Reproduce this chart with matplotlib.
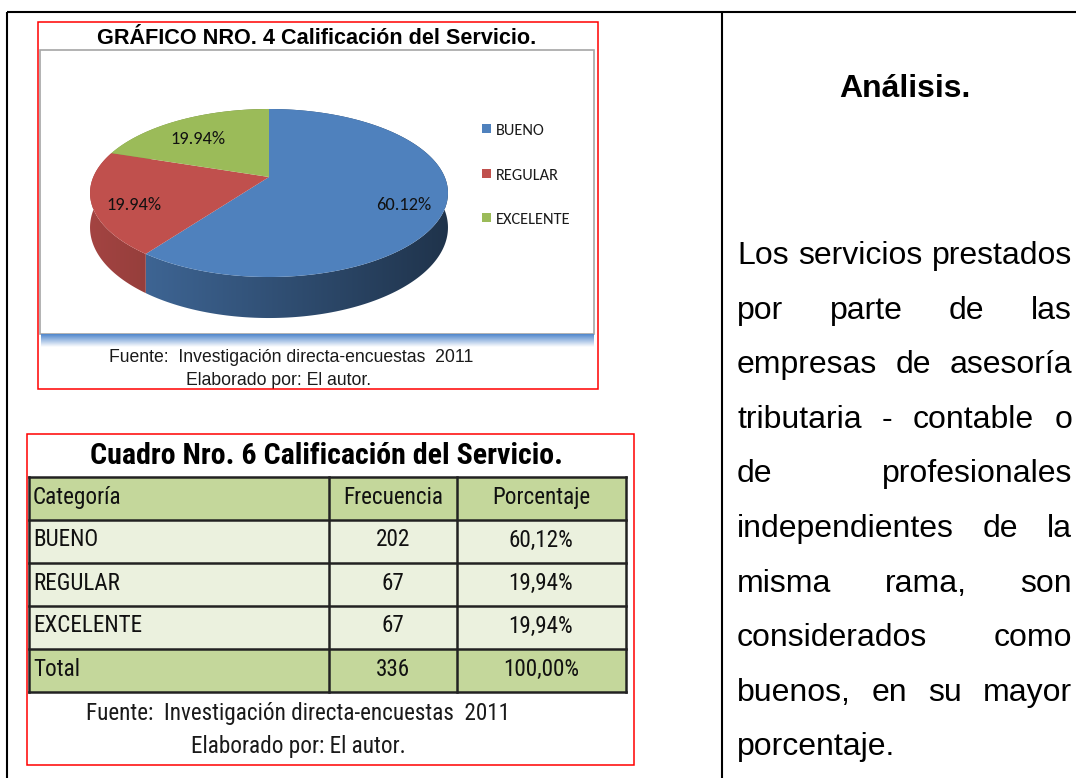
import numpy as np
import matplotlib
matplotlib.use('Agg')
import matplotlib.pyplot as plt
from matplotlib.patches import Rectangle, Polygon
from matplotlib.colors import to_rgb

# datos del cuadro / grafico
categorias = ['BUENO', 'REGULAR', 'EXCELENTE']
frecuencias = [202, 67, 67]
colores = ['#4F81BD', '#C0504D', '#9BBB59']
encabezados = ['Categoría', 'Frecuencia', 'Porcentaje']

titulo_grafico = 'GRÁFICO NRO. 4 Calificación del Servicio.'
titulo_cuadro = 'Cuadro Nro. 6 Calificación del Servicio.'
fuente = 'Fuente:  Investigación directa-encuestas  2011'
elaborado = 'Elaborado por: El autor.'
titulo_analisis = 'Análisis.'
lineas_analisis = [
    'Los servicios prestados',
    'por parte de las',
    'empresas de asesoría',
    'tributaria - contable o',
    'de profesionales',
    'independientes de la',
    'misma rama, son',
    'considerados como',
    'buenos, en su mayor',
    'porcentaje.',
]

total = sum(frecuencias)
porcentajes = [100 * f / total for f in frecuencias]

ARIAL = 'Liberation Sans'
NARROW = ['Roboto Condensed', 'Liberation Sans']
CALIBRI = ['Carlito', 'Lato']

fig = plt.figure(figsize=(10.76, 7.78), dpi=100)
ax = fig.add_axes([0, 0, 1, 1])
renderer = fig.canvas.get_renderer()


def ajustar(texto, ancho, family, weight='normal', base=20):
    # tamaño de letra para que el texto ocupe el ancho medido en el original
    t = ax.text(0, 0, texto, family=family, fontweight=weight, fontsize=base)
    w = t.get_window_extent(renderer).width
    t.remove()
    return base * ancho / w


# lineas de la tabla del documento
ax.plot([7, 1076], [12, 12], color='black', lw=1.5, solid_capstyle='butt')
ax.plot([7, 7], [12, 778], color='black', lw=1.5, solid_capstyle='butt')
ax.plot([722, 722], [12, 778], color='black', lw=1.5, solid_capstyle='butt')

# ---------------- grafico 3D ----------------
ax.add_patch(Rectangle((38, 22), 560, 367, fill=False, ec='#FF0000', lw=1.1, zorder=5))
ax.text(316.5, 44, titulo_grafico, ha='center', va='baseline', fontsize=15.6,
        fontweight='bold', family=ARIAL)
ax.add_patch(Rectangle((40, 50), 554, 284, fc='white', ec='#A6A6A6', lw=1.2, zorder=1))

# banda azul bajo el area del grafico
banda = np.linspace(0, 1, 64)
azul = np.array(to_rgb('#4F86CC'))
img_banda = (azul[None, :] * (1 - banda[:, None]) + banda[:, None])[:, None, :]
ax.imshow(img_banda, extent=(41, 594, 347, 334), aspect='auto', interpolation='bilinear', zorder=1)

# proyeccion en perspectiva del pastel
CX, B0, A0, C0, K0, H0 = 269, 177, -47.24, 0.1905, 175.7, 33.2


def proy(t, r=1.0, z=0.0):
    s = r * np.sin(t)
    c = r * np.cos(t)
    d = 1 + C0 * s
    return CX + K0 * c / d, (A0 * s + B0 + H0 * z) / d


fracs = np.array(frecuencias) / total
limites = np.pi / 2 - 2 * np.pi * np.r_[0, np.cumsum(fracs)]

xg = np.linspace(80, 460, 256)
sombra = np.clip(0.85 - 0.45 * (xg - 90) / 357, 0.38, 0.9)

# paredes laterales
for i, col in enumerate(colores):
    ts = np.linspace(limites[i], limites[i + 1], 200)
    xt, yt = proy(ts)
    xb, yb = proy(ts, z=1)
    pts = np.column_stack([np.r_[xt, xb[::-1]], np.r_[yt, yb[::-1]]])
    pared = Polygon(pts, closed=True, fc='none', ec='none')
    ax.add_patch(pared)
    img = np.array(to_rgb(col))[None, None, :] * sombra[None, :, None]
    im = ax.imshow(img, extent=(80, 460, 340, 100), aspect='auto',
                   interpolation='bilinear', zorder=2)
    im.set_clip_path(pared)

# caras superiores y etiquetas
vx, vy = proy(0, r=0)
for i, col in enumerate(colores):
    ts = np.linspace(limites[i], limites[i + 1], 200)
    xt, yt = proy(ts)
    ax.fill(np.r_[vx, xt], np.r_[vy, yt], color=col, lw=0, zorder=3)
    tm = (limites[i] + limites[i + 1]) / 2
    lx, ly = proy(tm, r=0.77, z=0.2)
    ax.text(lx, ly + 6, f'{porcentajes[i]:.2f}%', ha='center', va='baseline',
            family=CALIBRI, fontsize=13.2, color='#111111', zorder=4)

# leyenda
for i, (cat, col) in enumerate(zip(categorias, colores)):
    yb = 135 + 44.5 * i
    ax.add_patch(Rectangle((482, yb - 11), 9, 9, fc=col, ec='none', zorder=4))
    ax.text(496, yb, cat, ha='left', va='baseline', family=CALIBRI, fontsize=11.8,
            color='#1A1A1A', zorder=4)

ax.text(291, 362, fuente, ha='center', va='baseline', fontsize=12.7, family=ARIAL, color='#1A1A1A')
ax.text(279, 385, elaborado, ha='center', va='baseline', fontsize=12.7, family=ARIAL, color='#1A1A1A')

# ---------------- cuadro ----------------
ax.add_patch(Rectangle((27, 434), 607, 331, fill=False, ec='#FF0000', lw=1.1, zorder=5))
ax.text(327, 464, titulo_cuadro, ha='center', va='baseline', family=NARROW,
        fontweight='bold', fontsize=ajustar(titulo_cuadro, 474, NARROW, 'bold'))

filas = [encabezados]
for cat, f, p in zip(categorias, frecuencias, porcentajes):
    filas.append([cat, str(f), f'{p:.2f}'.replace('.', ',') + '%'])
filas.append(['Total', str(total), f'{sum(porcentajes):.2f}'.replace('.', ',') + '%'])

tam_celda = ajustar(encabezados[1], 100, NARROW)
xs_col = [29, 329, 457, 626]
y0, alto = 477, 43
for k, fila in enumerate(filas):
    ytop = y0 + alto * k
    fondo = '#C4D79B' if k in (0, len(filas) - 1) else '#EBF1DE'
    ax.add_patch(Rectangle((xs_col[0], ytop), xs_col[-1] - xs_col[0], alto, fc=fondo, ec='none', zorder=1))
    ax.text(33, ytop + 26.5, fila[0], ha='left', va='baseline', family=NARROW,
            fontsize=tam_celda, color='#111111', zorder=3)
    ax.text(393, ytop + 26.5, fila[1], ha='center', va='baseline', family=NARROW,
            fontsize=tam_celda, color='#111111', zorder=3)
    ax.text(541, ytop + 26.5, fila[2], ha='center', va='baseline', family=NARROW,
            fontsize=tam_celda, color='#111111', zorder=3)

for k in range(len(filas) + 1):
    ax.plot([xs_col[0], xs_col[-1]], [y0 + alto * k] * 2, color='#222222', lw=1.8,
            solid_capstyle='projecting', zorder=2)
for xc in xs_col:
    ax.plot([xc, xc], [y0, y0 + alto * len(filas)], color='#222222', lw=1.8,
            solid_capstyle='projecting', zorder=2)

tam_fuente = ajustar(fuente, 423, NARROW)
ax.text(298.5, 720, fuente, ha='center', va='baseline', family=NARROW, fontsize=tam_fuente, color='#1A1A1A')
ax.text(298, 753, elaborado, ha='center', va='baseline', family=NARROW, fontsize=tam_fuente, color='#1A1A1A')

# ---------------- analisis ----------------
ax.text(905, 97, titulo_analisis, ha='center', va='baseline', family=ARIAL,
        fontweight='bold', fontsize=23)

izq, der = 737, 1072
for i, linea in enumerate(lineas_analisis):
    yb = 264 + 54.6 * i
    palabras = linea.split()
    if i == len(lineas_analisis) - 1 or len(palabras) == 1:
        ax.text(izq, yb, linea, ha='left', va='baseline', family=ARIAL, fontsize=23)
        continue
    textos = [ax.text(izq, yb, w, ha='left', va='baseline', family=ARIAL, fontsize=23)
              for w in palabras]
    anchos = [t.get_window_extent(renderer).width for t in textos]
    hueco = (der - izq - sum(anchos)) / (len(palabras) - 1)
    x = izq
    for t, w in zip(textos, anchos):
        t.set_x(x)
        x += w + hueco

ax.set_xlim(0, 1076)
ax.set_ylim(778, 0)
ax.axis('off')

fig.savefig('out.png', dpi=100)
